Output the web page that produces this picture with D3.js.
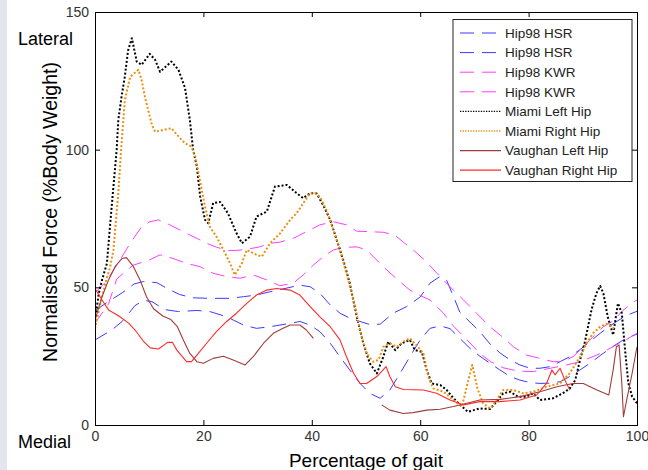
<!DOCTYPE html>
<html><head><meta charset="utf-8">
<script src="https://cdn.jsdelivr.net/npm/d3@7"></script>
<style>
html,body{margin:0;padding:0;background:#fff;}
svg{display:block;}
</style></head>
<body>
<script>
// ---- data (x: % of gait, y: % body weight) ----
const xTicks = [0, 20, 40, 60, 80, 100];
const yTicks = [0, 50, 100, 150];

const hip98HSR1 = [[0,41.5],[2.2,44.5],[5,48],[7.2,51.2],[8.9,52.1],[11.4,51.7],[13.4,49.5],[15.6,47.4],[18,46.2],[21.2,46],[24.9,46],[27.4,46.6],[29.8,47.2],[32.3,48.4],[36,50],[37.8,50.8],[39.7,50.2],[41.5,47.8],[43.4,43.6],[45.2,40.6],[47,38.8],[48.9,37.6],[50.7,36.5],[52.6,36.6],[55,40.6],[57.5,43],[60,46.5],[61.8,51.5],[63.7,54],[64.9,52.5],[66.4,45.4],[67.3,41],[69.5,36.8],[71,33.9],[72.9,29.4],[74.7,26.2],[76.6,23.6],[78.4,21.8],[80.3,20.6],[82.1,20.6],[84,21.2],[85.8,23],[87.6,24.8],[89.5,27.4],[91.3,30.3],[93.2,33.3],[95,36],[96.9,38.4],[98.7,40.3],[100,41.3]];
const hip98HSR2 = [[0,30.9],[3.1,34.5],[5,37.6],[7.4,43.4],[9,45.3],[10.5,44.8],[12.9,41.9],[15.4,41.2],[18.8,41.6],[21.2,41.2],[24.3,39.3],[27.4,36.3],[29.8,35.1],[32.3,35.7],[36,36.9],[37.8,37.6],[39.7,36.3],[41.5,33.9],[43.4,29.7],[45.2,24.8],[47,20],[48.9,15.1],[50.7,11.5],[52.6,9.7],[54.4,12.7],[56.3,18.8],[58.1,24.8],[60,30.9],[61.8,35.1],[63.7,36],[65.5,35],[67.3,31.5],[69.2,27.8],[71,25],[72.9,22.4],[74.7,20],[76.6,17.6],[78.4,16.3],[80.3,15.4],[82.1,15.1],[84,15.2],[85.8,15.7],[87.6,17.6],[89.5,20],[91.3,22.4],[93.2,25.2],[95,27.8],[96.9,30.2],[98.7,32.1],[100,33]];
const hip98KWR1 = [[0,48],[2,52],[4,58],[6.5,66],[8.6,72],[10.1,73.8],[11.7,74.5],[13.8,72.7],[15.7,70.8],[17.5,69],[18.8,67.8],[20.6,66],[22.4,64.6],[24.3,63.4],[26.1,63.4],[28,63.8],[30.4,64.7],[32.3,66],[34.1,66.4],[36.6,67.8],[39,70.2],[41.5,72.7],[44,73.8],[46.4,72.7],[48.3,70.4],[50.7,70.2],[53.2,70],[55.3,69],[56.9,66.4],[58.7,63.6],[61,59.6],[63,55.3],[65.5,50.2],[68,45.4],[70.4,40.6],[72.9,35.6],[75.3,31.8],[77.2,28.4],[79.6,25.4],[82.1,24.2],[84.5,23],[86.4,23],[88.2,24.8],[90.1,28.4],[91.9,32.1],[93.8,35.7],[95.6,37.8],[97.4,41.6],[99.3,44.6],[100,45.4]];
const hip98KWR2 = [[0,37],[2.5,44],[4,53],[7,58],[10.1,60],[12,61.8],[14.4,60.5],[16.9,58.7],[19.4,57.5],[21.8,55.1],[24.3,53.9],[26.8,53.3],[29.2,54.5],[31.7,52.7],[34.1,50.6],[36.6,51.5],[38.4,54.5],[40.3,58.1],[42.1,61.1],[44,63.6],[45.8,64.5],[48.3,64.7],[50.1,63.6],[52,59.9],[53.5,56.9],[55.7,53],[58.1,49],[60,47],[61.8,45.4],[64.3,40.6],[66.1,36],[68.6,31],[71,26],[73,23],[75.3,20.8],[78,19.6],[80.9,19.4],[84,20.6],[87,21.8],[89.5,23],[92.6,25.4],[95,27.8],[97.4,30.3],[100,33.3]];
const miamiLeft = [[0,38],[0.7,47.8],[1.3,52.7],[2.2,58.7],[2.8,73],[3.4,86.6],[4,100],[4.3,110.8],[4.9,119.3],[5.5,126.5],[6.1,136],[6.8,140.5],[7.7,132],[8.6,130.8],[10.1,134.8],[11.1,132.6],[12,128.3],[14.1,132],[15.4,129],[16.6,122.5],[17.5,110.8],[18.1,100],[18.8,93.8],[19.4,83],[20.3,74.5],[20.9,73.3],[21.8,80.6],[23.1,81],[24.5,77],[26.1,69.7],[27.1,66],[28.6,68.4],[29.8,75.7],[31.7,77.5],[33.2,86.6],[35.4,87.2],[37.2,84.2],[38.4,82.4],[39.7,84.2],[40.9,84.1],[42.1,79.9],[43.4,74.5],[44.6,67.2],[45.8,59.9],[47,51.5],[48.3,39.3],[49.5,29.7],[50.7,22.4],[52,18.7],[53.2,24.8],[54.1,30.3],[55.4,27.2],[56.6,29.7],[58.1,30.9],[59,27.2],[60.3,26.6],[61.2,20],[62.1,15.1],[63.7,14.5],[64.9,12.7],[66.1,9.8],[67.7,6.7],[68.8,4.8],[71,6],[72.9,5.8],[74.1,8.5],[75.3,11.5],[76.6,12.1],[78,10.3],[79.6,10.3],[80.8,11.5],[82.1,9.1],[84.5,9.7],[86.3,11.5],[87.6,13.3],[88.6,16.3],[89.5,23.6],[90.4,30.3],[91.6,41.8],[92.5,47.8],[93.2,50.5],[93.8,47.8],[94.6,39.3],[95.6,32.7],[96.2,40.6],[96.5,44.2],[97.2,40.6],[97.8,27.2],[98.4,15.2],[99.1,10.3],[100,7.9]];
const miamiRight = [[0,35],[1,44.2],[1.9,51.5],[2.8,57.5],[3.4,63.6],[4.3,84.2],[4.9,102.3],[5.5,118],[6.5,126.5],[8,129],[8.6,125.3],[9.2,119.3],[9.8,114.4],[10.5,109],[11.1,106.5],[12.6,107.2],[14.1,107.8],[15.4,104.8],[16.6,102.3],[17.8,101.1],[18.5,97.5],[19.1,91.4],[19.7,85.4],[20.3,79.3],[21.2,72],[22.4,68.4],[23.7,63.6],[24.9,58.8],[25.8,54.5],[27.1,58.7],[28,63.6],[29.8,61.8],[30.8,61.2],[32.3,66],[34.1,69.5],[36,74.5],[37.2,76.9],[38.4,80.5],[39.7,84.2],[40.6,84.2],[41.5,82.9],[42.7,78],[44,70.8],[45.2,63.6],[46.4,55.1],[47.7,45.4],[48.9,34.5],[50.1,26],[51.3,23],[52.3,23.6],[53.2,28.4],[54.4,29.7],[55.7,28.4],[56.9,30.3],[58.1,31.5],[59.3,29],[60.6,26],[61.5,17.5],[62.4,13.3],[64.3,12.1],[66.1,9.1],[67.7,6.7],[68.6,14],[69.6,21.8],[70.6,13],[71.6,7.9],[72.9,6],[74.1,9.1],[75.3,12.7],[77.2,12.7],[79,11.5],[80.9,12.1],[83.3,13.9],[85.8,15.1],[87.6,18.8],[89.5,24.8],[90.7,29.7],[91.9,33.3],[93.2,35.7],[94.4,36.8],[95.8,35]];
const vaughanLeft = [[0,38.1],[1.3,46.6],[2.5,52.7],[3.7,57.5],[5,60.5],[5.8,60.8],[7.1,57.5],[8.3,52.7],[9.5,46.6],[10.8,42.2],[12.5,39.6],[14,38.3],[15.2,35.7],[16.3,30.9],[17.5,26],[18.8,23],[20,22.4],[21.8,24.2],[23.7,25],[25.5,23.6],[27.7,21.8],[29.2,24.8],[31.1,29.7],[32.9,33.3],[34.7,35.1],[36,36.3],[37.8,36.3],[39,34.5],[40.3,31.5],[null,null],[52.9,7.3],[54.4,5.4],[56.9,4.2],[58.7,4.5],[61.2,5.4],[63.7,5.7],[66.1,6.7],[68.6,7.9],[71,9.1],[74.7,9.3],[78.4,10.3],[82.1,12.1],[85.2,13.9],[88.2,15.1],[90.1,15.1],[92.6,12.7],[94.8,10.9],[95.6,20],[96.2,28.4],[96.7,29],[97.2,15.1],[97.5,3],[98.1,9.1],[99.1,18.8],[100,28.4]];
const vaughanRight = [[0,49.6],[1.3,45.4],[2.5,41.8],[4.4,39.6],[6.2,37],[7.4,34.5],[8.9,30.5],[10.2,28],[11.7,27.6],[13.4,30],[14.3,30],[15.1,27.2],[16.9,23],[17.8,23],[18.8,25.4],[20.6,29.7],[22.4,33.9],[24.3,37.6],[26.1,40.6],[28,44.2],[29.8,47.2],[31.7,49],[33.5,49.6],[36,49],[37.8,47.2],[39.7,43],[41.5,39.3],[43.4,35.7],[45.2,30.9],[46.4,24.8],[47.7,18.8],[48.9,15.1],[50.1,15.1],[52,17.6],[53.7,21.2],[54.4,17.6],[55.4,13.9],[56.9,12.9],[60.6,12.7],[63,11.5],[65.5,9.1],[68,7.3],[71,8.5],[74.7,8.5],[78.4,9.1],[81.5,10.9],[83.3,15.1],[84.3,20],[84.9,18.2],[85.8,20.6],[86.7,16.3],[87.6,12.7]];

const seriesNames = ["Hip98 HSR","Hip98 HSR","Hip98 KWR","Hip98 KWR","Miami Left Hip","Miami Right Hip","Vaughan Left Hip","Vaughan Right Hip"];
const seriesData = [hip98HSR1, hip98HSR2, hip98KWR1, hip98KWR2, miamiLeft, miamiRight, vaughanLeft, vaughanRight];

// ---- styles ----
const styles = [
  {color:"#3b3bff", width:1, dash:"14,8", legDash:"14,8", legWidth:1},
  {color:"#3b3bff", width:1, dash:"14,8", legDash:"14,8", legWidth:1},
  {color:"#ff3cff", width:1, dash:"14,8", legDash:"14,8", legWidth:1},
  {color:"#ff3cff", width:1, dash:"14,8", legDash:"14,8", legWidth:1},
  {color:"#000000", width:2, dash:"2,2", legDash:"1.3,1.3", legWidth:1.3},
  {color:"#e8900f", width:2, dash:"2,2", legDash:"1.3,1.3", legWidth:1.3},
  {color:"#a03c3c", width:1.1, dash:null, legDash:null, legWidth:1.2},
  {color:"#ff2a2a", width:1.1, dash:null, legDash:null, legWidth:1.2}
];

const W = 648, H = 470;
const svg = d3.select("body").append("svg").attr("width", W).attr("height", H);
svg.append("rect").attr("x",0).attr("y",0).attr("width",W).attr("height",H).attr("fill","#fff");
svg.append("rect").attr("x",0).attr("y",0).attr("width",7).attr("height",H).attr("fill","#e4e4ee");

const x = d3.scaleLinear().domain([0,100]).range([95,637]);
const y = d3.scaleLinear().domain([0,150]).range([425,12]);
const font = "'Liberation Sans', Arial, sans-serif";

// clip
svg.append("clipPath").attr("id","clip").append("rect")
  .attr("x",x(0)).attr("y",y(150)).attr("width",x(100)-x(0)).attr("height",y(0)-y(150));

const line = d3.line().defined(d => d[0] !== null).x(d => x(d[0])).y(d => y(d[1]));
const g = svg.append("g").attr("clip-path","url(#clip)");
seriesData.forEach((d,i) => {
  const s = styles[i];
  g.append("path").attr("d", line(d)).attr("fill","none")
    .attr("stroke", s.color).attr("stroke-width", s.width)
    .attr("stroke-dasharray", s.dash)
    .attr("stroke-linejoin","round");
});

// axes (MATLAB-like box with inward ticks)
const axB = d3.axisBottom(x).tickValues(xTicks).tickSize(-5).tickPadding(6).tickFormat(d3.format("d"));
const axL = d3.axisLeft(y).tickValues(yTicks).tickSize(-5).tickPadding(6).tickFormat(d3.format("d"));
const axT = d3.axisTop(x).tickValues(xTicks).tickSize(-5).tickFormat("");
const axR = d3.axisRight(y).tickValues(yTicks).tickSize(-5).tickFormat("");
const gb = svg.append("g").attr("transform",`translate(0,${y(0)})`).call(axB);
const gl = svg.append("g").attr("transform",`translate(${x(0)},0)`).call(axL);
const gt = svg.append("g").attr("transform",`translate(0,${y(150)})`).call(axT);
const gr = svg.append("g").attr("transform",`translate(${x(100)},0)`).call(axR);
[gb,gl,gt,gr].forEach(a => {
  a.select(".domain").attr("stroke","#000").attr("stroke-width",1);
  a.selectAll(".tick line").attr("stroke","#000");
  a.selectAll(".tick text").attr("font-family",font).attr("font-size",14).attr("fill","#333");
});

// titles
svg.append("text").attr("x", 366).attr("y", 467).attr("text-anchor","middle")
  .attr("font-family",font).attr("font-size",19).attr("fill","#000").text("Percentage of gait");
svg.append("text").attr("transform","translate(57,212) rotate(-90)").attr("text-anchor","middle")
  .attr("font-family",font).attr("font-size",19.5).attr("fill","#000").text("Normalised Force (%Body Weight)");
svg.append("text").attr("x",18).attr("y",45).attr("font-family",font).attr("font-size",18).attr("fill","#000").text("Lateral");
svg.append("text").attr("x",18).attr("y",448).attr("font-family",font).attr("font-size",18).attr("fill","#000").text("Medial");

// legend
const lg = svg.append("g");
lg.append("rect").attr("x",453).attr("y",19.5).attr("width",179).attr("height",162)
  .attr("fill","#fff").attr("stroke","#222").attr("stroke-width",1);
seriesNames.forEach((n,i) => {
  const yy = 33 + i*19.6;
  const s = styles[i];
  lg.append("line").attr("x1",460).attr("x2",501).attr("y1",yy).attr("y2",yy)
    .attr("stroke",s.color).attr("stroke-width",s.legWidth).attr("stroke-dasharray",s.legDash);
  lg.append("text").attr("x",505).attr("y",yy+4.8).attr("font-family",font).attr("font-size",13.5)
    .attr("fill","#222").text(n);
});
</script>
</body></html>
